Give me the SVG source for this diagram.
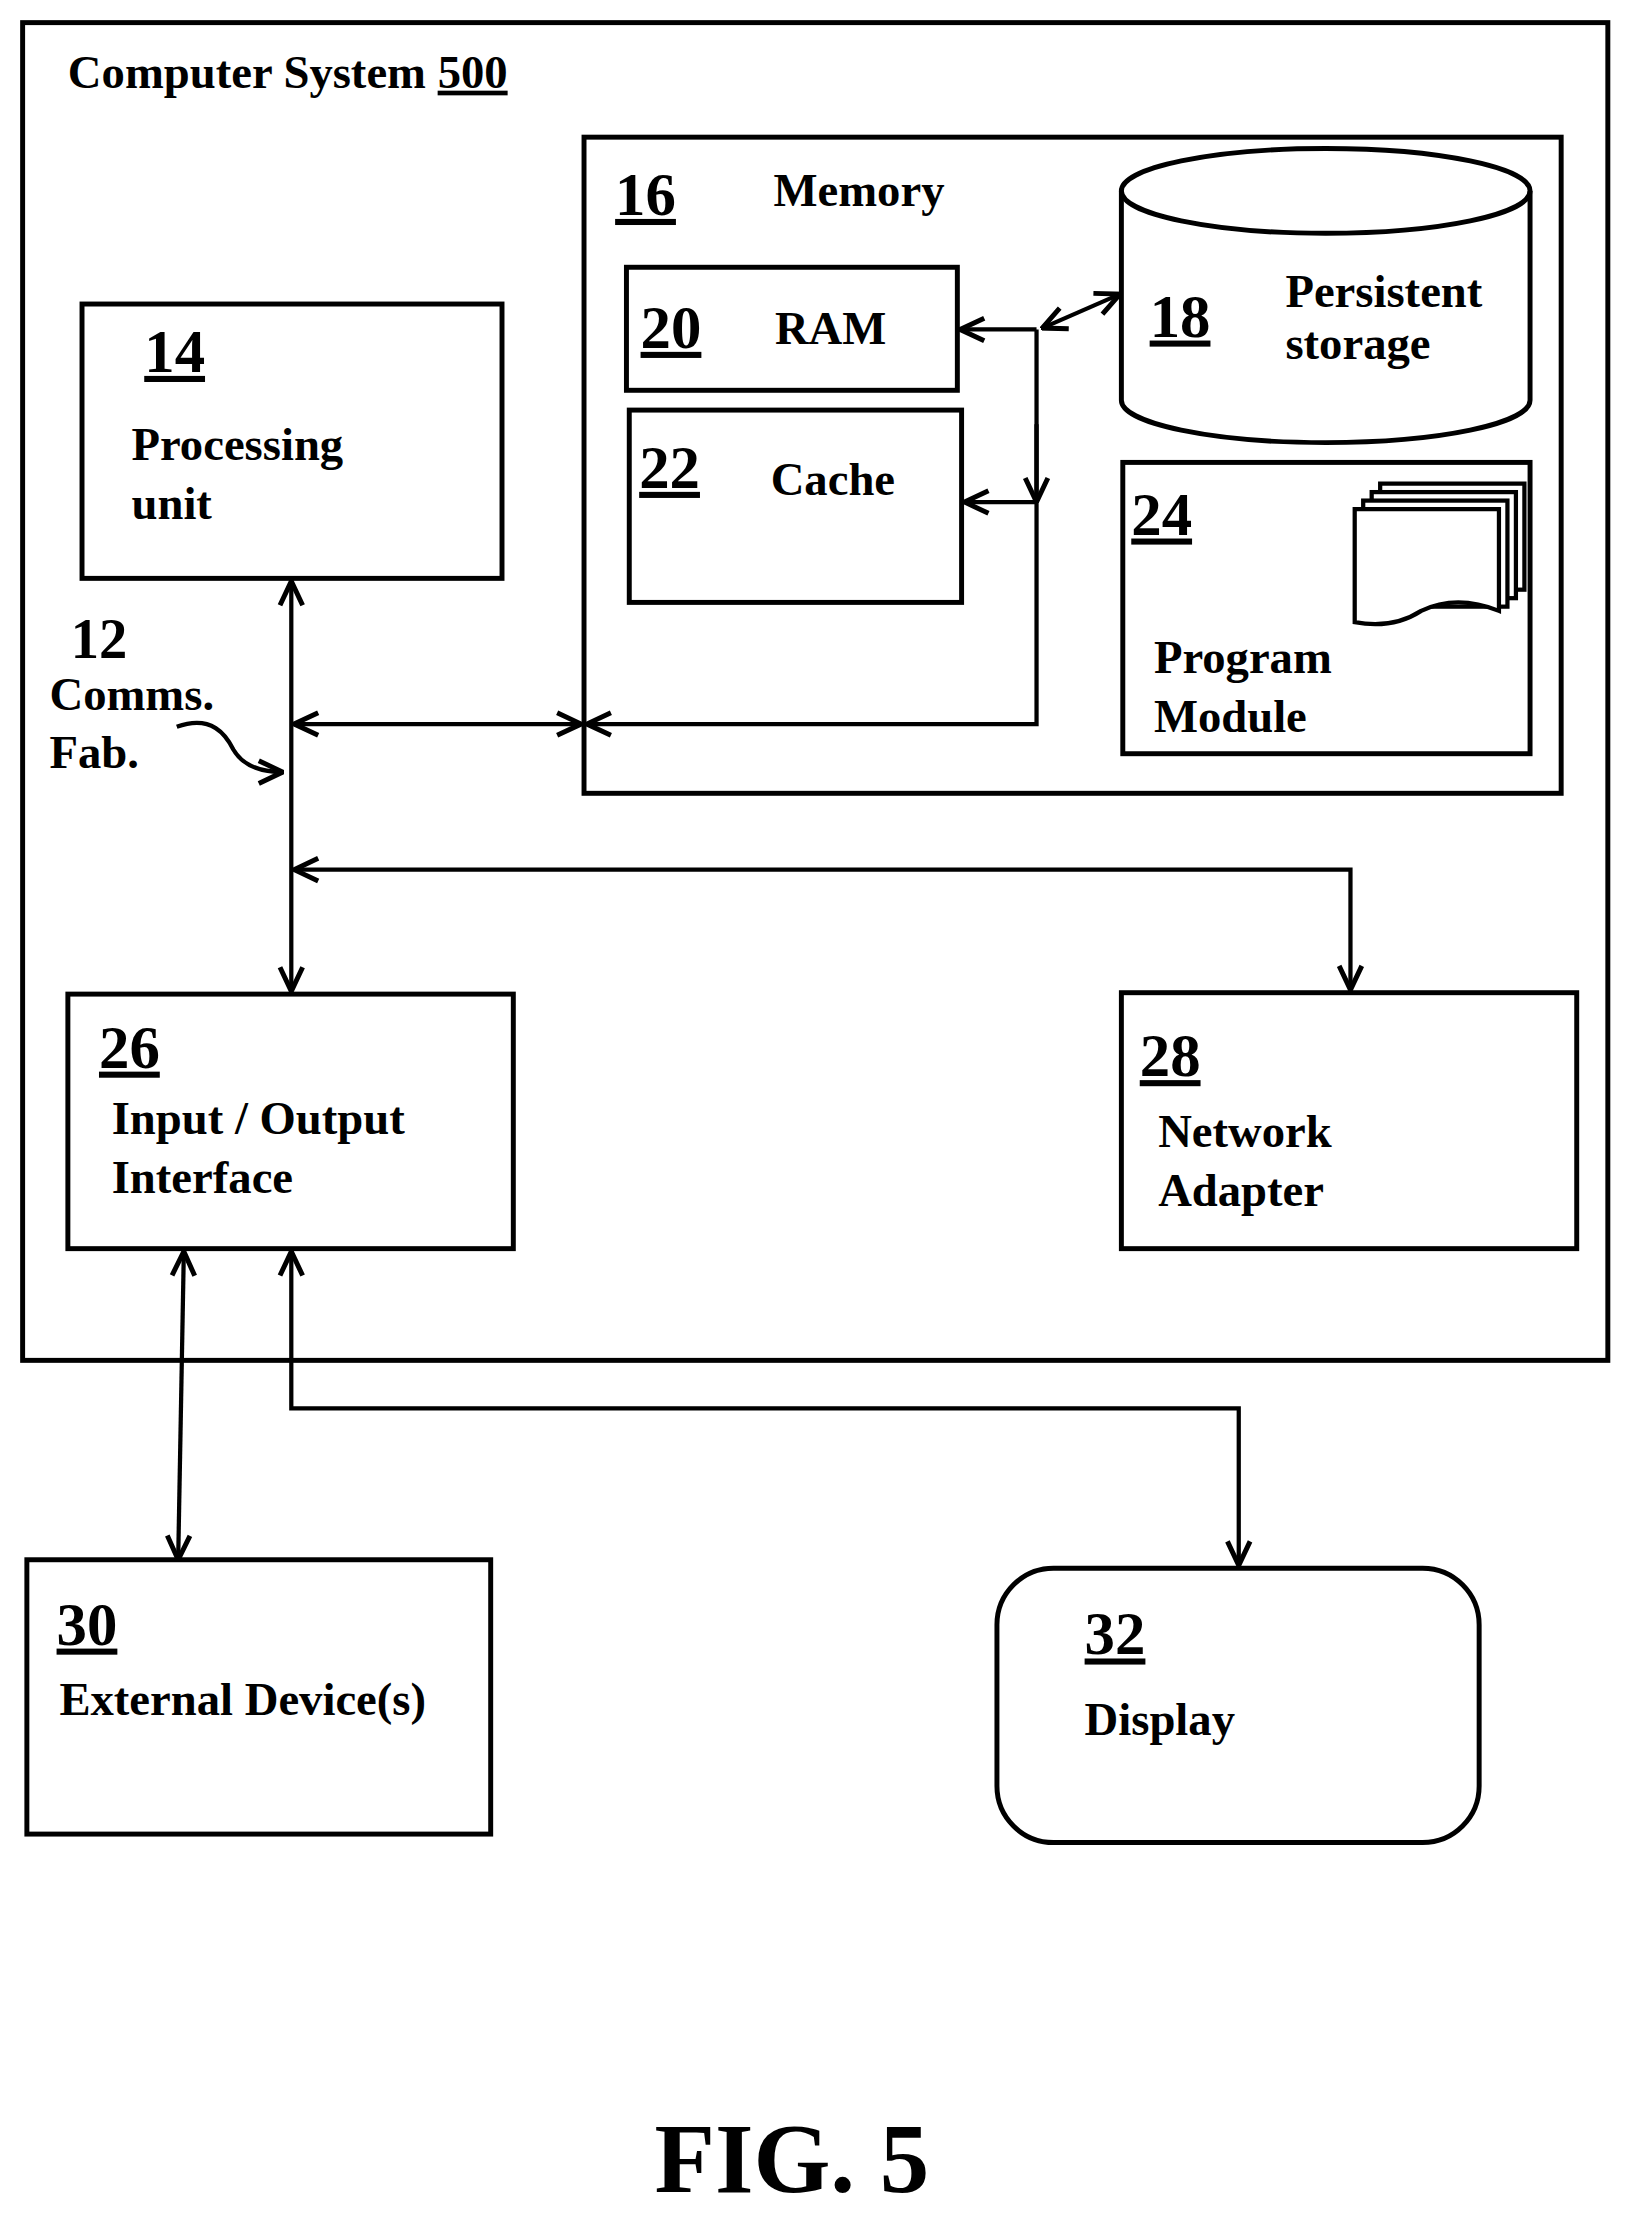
<svg xmlns="http://www.w3.org/2000/svg" width="1629" height="2215" viewBox="0 0 1629 2215">
<defs>
<style>
.b{fill:none;stroke:#000;stroke-width:3.5}
.l{fill:none;stroke:#000;stroke-width:3}
text{font-family:"Liberation Serif",serif;font-weight:bold;fill:#000}
.t{font-size:33px}
.n{font-size:43px;text-decoration:underline}
</style>
<marker id="a" viewBox="0 0 20 20" refX="19" refY="10" markerWidth="20" markerHeight="20" markerUnits="userSpaceOnUse" orient="auto-start-reverse"><path d="M2,2 L19,10 L2,18" fill="none" stroke="#000" stroke-width="3.5"/></marker>
</defs>
<rect width="1629" height="2215" fill="#fff"/>
<g transform="scale(1.4141)">
<g id="system"><rect class="b" x="16" y="16" width="1121" height="946"/>
<text class="t" x="48" y="62">Computer System <tspan text-decoration="underline">500</tspan></text></g>
<g id="memory"><rect class="b" x="413" y="97" width="691" height="464"/>
<text class="n" x="435" y="152">16</text><text class="t" x="547" y="146">Memory</text></g>
<g id="ram"><rect class="b" x="443" y="189" width="234" height="87"/>
<text class="n" x="453" y="246">20</text><text class="t" x="548" y="243">RAM</text></g>
<g id="cache"><rect class="b" x="445" y="290" width="235" height="136"/>
<text class="n" x="452" y="345">22</text><text class="t" x="545" y="350">Cache</text></g>
<g id="storage"><path class="b" d="M793,135 L793,283 A144.5,30 0 0 0 1082,283 L1082,135"/>
<ellipse class="b" cx="937.5" cy="135" rx="144.5" ry="30"/>
<text class="n" x="813" y="238">18</text><text class="t" x="909" y="217">Persistent</text><text class="t" x="909" y="254">storage</text></g>
<g id="program"><rect class="b" x="794" y="327" width="288" height="206"/>
<text class="n" x="800" y="378">24</text>
<rect x="976" y="342" width="102" height="75" fill="#fff" stroke="#000" stroke-width="3"/>
<rect x="970" y="348" width="102" height="75" fill="#fff" stroke="#000" stroke-width="3"/>
<rect x="964" y="354" width="102" height="75" fill="#fff" stroke="#000" stroke-width="3"/>
<path d="M958,360 L1060,360 L1060,432 Q1030,420 1005,432 Q985,445 958,440 Z" fill="#fff" stroke="#000" stroke-width="3"/>
<text class="t" x="816" y="476">Program</text><text class="t" x="816" y="518">Module</text></g>
<g id="cpu"><rect class="b" x="58" y="215" width="297" height="194"/>
<text class="n" x="102" y="263">14</text><text class="t" x="93" y="325">Processing</text><text class="t" x="93" y="367">unit</text></g>
<g id="bus"><text x="50" y="465" style="font-size:40px">12</text><text class="t" x="35" y="502">Comms.</text><text class="t" x="35" y="543">Fab.</text></g>
<g id="io"><rect class="b" x="48" y="703" width="315" height="180"/>
<text class="n" x="70" y="755">26</text><text class="t" x="79" y="802">Input / Output</text><text class="t" x="79" y="844">Interface</text></g>
<g id="net"><rect class="b" x="793" y="702" width="322" height="181"/>
<text class="n" x="806" y="761">28</text><text class="t" x="819" y="811">Network</text><text class="t" x="819" y="853">Adapter</text></g>
<g id="ext"><rect class="b" x="19" y="1103" width="328" height="194"/>
<text class="n" x="40" y="1163">30</text><text class="t" x="42" y="1213">External Device(s)</text></g>
<g id="display"><rect class="b" x="705" y="1109" width="341" height="194" rx="40"/>
<text class="n" x="767" y="1170">32</text><text class="t" x="767" y="1227">Display</text></g>
<g id="connectors">
<path class="l" d="M206,411 L206,701" marker-start="url(#a)" marker-end="url(#a)"/>
<path class="l" d="M208,512 L411,512" marker-start="url(#a)" marker-end="url(#a)"/>
<path class="l" d="M415,512 L733,512 L733,233" marker-start="url(#a)"/>
<path class="l" d="M733,233 L679,233" marker-end="url(#a)"/>
<path class="l" d="M733,300 L733,355" marker-end="url(#a)"/>
<path class="l" d="M733,355 L682,355" marker-end="url(#a)"/>
<path class="l" d="M737,232 L792,208" marker-start="url(#a)" marker-end="url(#a)"/>
<path class="l" d="M208,615 L955,615 L955,700" marker-start="url(#a)" marker-end="url(#a)"/>
<path class="l" d="M130,885 L126,1103" marker-start="url(#a)" marker-end="url(#a)"/>
<path class="l" d="M206,885 L206,996 L876,996 L876,1107" marker-start="url(#a)" marker-end="url(#a)"/>
<path class="l" d="M125,514 C150,505 160,520 165,530 C172,542 185,546 200,546" marker-end="url(#a)"/>
</g>
<text x="560" y="1550" font-size="70" text-anchor="middle">FIG. 5</text>
</g>
</svg>
